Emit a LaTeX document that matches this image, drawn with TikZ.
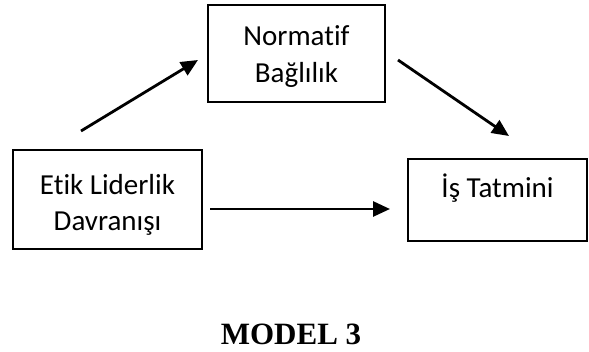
\documentclass[tikz,border=0pt]{standalone}
\usepackage{fontspec}
\setmainfont[RawFeature=-liga]{Carlito}
\newfontfamily\timesfont{Liberation Serif}
\usetikzlibrary{arrows.meta}
\tikzset{
  box/.style={draw, line width=1.4pt, rectangle, inner sep=0pt},
  lbl/.style={anchor=base, inner sep=0pt, font=\fontsize{29}{36}\selectfont},
  arr/.style={line width=2.8pt, -{Triangle[length=17pt,width=15pt]}}
}
\begin{document}
\begin{tikzpicture}[x=1pt,y=-1pt]
\useasboundingbox (0,0) rectangle (589,352);
% boxes
\node[box, minimum width=177pt, minimum height=97pt] (norm) at (296.5,53.5) {};
\node[box, minimum width=189pt, minimum height=99pt] (etik) at (107.5,199.5) {};
\node[box, minimum width=179pt, minimum height=82pt] (is) at (497.5,200) {};
% labels
\node[lbl] (normA) at (296.5,45.5) {Normatif};
\node[lbl] (normB) at (296.5,83) {Bağlılık};
\node[lbl] (etikA) at (107.5,195) {Etik Liderlik};
\node[lbl] (etikB) at (107.5,230.5) {Davranışı};
\node[lbl] (isA) at (497.5,198) {İş Tatmini};
\node[anchor=base, inner sep=0pt, font=\timesfont\bfseries\fontsize{31}{36}\selectfont] (model) at (291,345) {MODEL 3};
% connector ends
\coordinate (a1s) at (81,131);
\coordinate (a1e) at (198,60);
\coordinate (a2s) at (398,60);
\coordinate (a2e) at (509,136);
\coordinate (a3s) at (210,209);
\coordinate (a3e) at (390,209);
\draw[arr] (a1s) -- (a1e);
\draw[arr] (a2s) -- (a2e);
\draw[arr] (a3s) -- (a3e);
\end{tikzpicture}
\end{document}
